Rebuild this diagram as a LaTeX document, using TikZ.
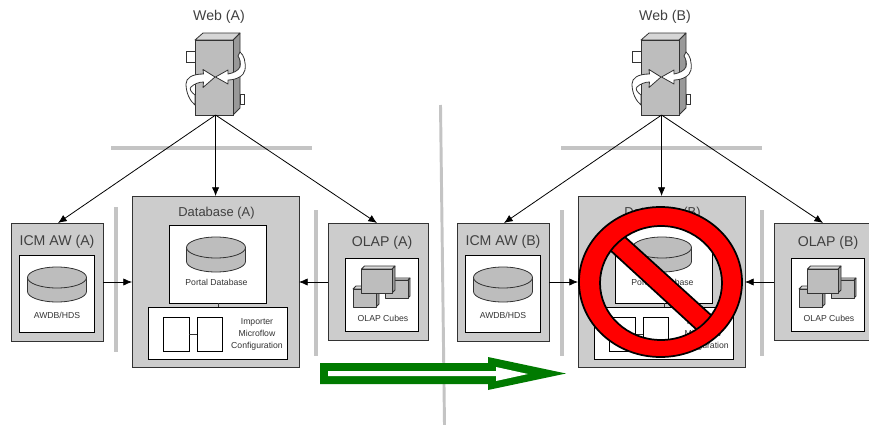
\documentclass[tikz,border=0pt]{standalone}
\usepackage{fontspec}
\setmainfont{Liberation Sans}
\usetikzlibrary{arrows.meta}
\definecolor{boxgray}{HTML}{CCCCCC}
\definecolor{linegray}{HTML}{333333}
\definecolor{bargray}{HTML}{C4C4C4}
\definecolor{midgray}{HTML}{BDBDBD}
\definecolor{sidegray}{HTML}{999999}
\definecolor{arrowgreen}{HTML}{007A00}
\tikzset{
  panel/.style={draw=linegray,fill=boxgray,line width=0.75pt,inner sep=0pt,outer sep=0pt},
  inner panel/.style={draw=black,fill=white,line width=0.75pt,inner sep=0pt,outer sep=0pt},
  bar/.style={draw=bargray,line width=3pt},
  conn/.style={draw=black,line width=0.6pt,-{Latex[length=6.5pt,width=5.5pt]}},
  plainline/.style={draw=linegray,line width=0.6pt},
  title/.style={font=\fontsize{10.6pt}{12pt}\selectfont,text=black!75,inner sep=0pt},
  dbtitle/.style={font=\fontsize{9.7pt}{12pt}\selectfont,text=black!75,inner sep=0pt},
  small/.style={font=\fontsize{6.5pt}{9pt}\selectfont,text=black!80,inner sep=0pt,align=center},
  shape part/.style={draw=linegray,fill=midgray,line width=0.6pt,line join=round},
}
\newcommand\rectnode[6]{%
  \pgfmathsetmacro\rw{(#5-#3)*0.75}\pgfmathsetmacro\rh{(#6-#4)*0.75}%
  \node[#1,minimum width=\rw pt,minimum height=\rh pt] (#2) at ({(#3+#5)/2},{(#4+#6)/2}) {};}
\newcommand\cylinder[4]{% cx, cy top, rx, height
  \fill[midgray] (#1-#3,#2) -- (#1-#3,#2+#4) arc[start angle=180,end angle=360,x radius=#3*0.75pt,y radius=10.5*0.75pt] -- (#1+#3,#2) -- cycle;
  \draw[linegray,line width=0.6pt] (#1-#3,#2) -- (#1-#3,#2+#4) arc[start angle=180,end angle=360,x radius=#3*0.75pt,y radius=10.5*0.75pt] -- (#1+#3,#2);
  \draw[shape part] (#1,#2) ellipse[x radius=#3*0.75pt,y radius=10.5*0.75pt];}
\newcommand\cube[5]{% x1,y1,x2,y2,depth
  \draw[shape part,fill=sidegray] (#3,#2) -- (#3+#5,#2-#5) -- (#3+#5,#4-#5) -- (#3,#4) -- cycle;
  \draw[shape part,fill=boxgray!70!white] (#1,#2) -- (#1+#5,#2-#5) -- (#3+#5,#2-#5) -- (#3,#2) -- cycle;
  \draw[shape part] (#1,#2) rectangle (#3,#4);}
\newcommand\site[5]{% letter, x offset, hub shift, left bar y1,y2
  \begin{scope}[shift={(#2*0.75pt,0)}]
  \node[title] (webt#1) at (219,16.5) {Web (#1)};
  % server
  \draw[plainline,fill=white] (186,51) rectangle (195,62);
  \draw[shape part,fill=sidegray] (233,40) -- (240,33) -- (240,108) -- (233,115) -- cycle;
  \draw[plainline,fill=white] (240,94) rectangle (244,104);
  \draw[shape part,fill=boxgray!80!white] (195,40) -- (203,33) -- (240,33) -- (233,40) -- cycle;
  \rectnode{panel,fill=midgray}{web#1}{195}{40}{233}{115}
  \draw[plainline,fill=white,line join=round] (215,77) -- (203,69.5) -- (203.5,74) .. controls (192,74) and (186,78) .. (186,84) .. controls (186,93) and (190,101) .. (195,105) -- (195,95) .. controls (191,92) and (189,89) .. (191,87) .. controls (194,84) and (199,82) .. (203.5,82) -- (203,87.5) -- cycle;
  \draw[plainline,fill=white,line join=round] (215.5,77) -- (228,70) -- (228,74) .. controls (233,73) and (238,71) .. (240,67) .. controls (241,63) and (240,59) .. (238,56) -- (240,52) .. controls (244,55) and (246,62) .. (245,70) .. controls (244,76) and (236,80) .. (228,80) -- (228,84) -- cycle;
  % hub
  \draw[bar] (111+#3,148) -- (312+#3,148);
  % left panel
  \rectnode{panel}{icm#1}{11}{223}{103}{341}
  \node[title] at (57,241.5) {ICM AW (#1)};
  \rectnode{inner panel}{icmi#1}{19}{255}{94}{332}
  \cylinder{57}{277.5}{29.5}{14}
  \node[small] at (57,315.5) {AWDB/HDS};
  % database
  \rectnode{panel}{db#1}{132}{196}{299}{367}
  \node[dbtitle] at (216.5,213) {Database (#1)};
  \rectnode{inner panel}{dbi#1}{169}{225}{266}{303}
  \cylinder{216}{247.5}{29.5}{14}
  \node[small] at (216.5,282.5) {Portal Database};
  \rectnode{inner panel}{imp#1}{148}{307}{287}{359}
  \rectnode{inner panel}{ra#1}{163}{317}{189}{351}
  \rectnode{inner panel}{rb#1}{197}{317}{222}{351}
  \draw[plainline] (ra#1) -- (rb#1);
  \draw[plainline] (dbi#1.south -| 218,0) -- (imp#1.north -| 218,0);
  \node[small] at (257,334) {Importer\\Microflow\\Configuration};
  % olap
  \rectnode{panel}{olap#1}{328}{223}{428}{340}
  \node[title] at (382,243) {OLAP (#1)};
  \rectnode{inner panel}{olapi#1}{345}{258}{418}{331}
  \cube{353}{289}{376}{307}{3}
  \cube{385}{280}{408}{298}{2}
  \cube{361.5}{269}{392}{293}{3}
  \node[small] at (383,318.5) {OLAP Cubes};
  % bars
  \draw[bar] (116,#4) -- (116,#5);
  \draw[bar] (315.5,210) -- (315.5,356);
  % connectors
  \coordinate (lvl#1) at (215,282);
  \coordinate (src#1) at ([xshift=1.2pt]web#1.south);
  \draw[conn] (src#1) -- ([xshift=0.75pt]icm#1.north);
  \draw[conn] (src#1) -- (src#1 |- db#1.north);
  \draw[conn] (src#1) -- ([xshift=-0.75pt]olap#1.north);
  \draw[conn] (icm#1.east |- lvl#1) -- (db#1.west |- lvl#1);
  \draw[conn] (olap#1.west |- lvl#1) -- (db#1.east |- lvl#1);
  \end{scope}}
\begin{document}
\begin{tikzpicture}[x=0.75pt,y=-0.75pt]
\useasboundingbox (0,0) rectangle (869,425);
\fill[white] (0,0) rectangle (869,425);
\draw[draw=bargray,line width=2.2pt] (440.5,105) -- (444.5,425);
\site{A}{0}{0}{207}{352}
\site{B}{446}{4}{210}{356}
% green arrow
\fill[arrowgreen] (320,363) -- (488,363) -- (488,357) -- (566,373.5) -- (488,390) -- (488,384) -- (320,384) -- cycle;
\fill[white] (328,371) -- (496,371) -- (496,367) -- (528,374) -- (496,381) -- (496,376) -- (328,376) -- cycle;
% prohibition sign
\begin{scope}
\clip (661,283) ellipse[x radius=61*0.75pt,y radius=57*0.75pt];
\fill[red] (610,250) -- (625,237) -- (712,316) -- (696,329) -- cycle;
\draw[black,line width=1.3pt] (610,250) -- (696,329) (625,237) -- (712,316);
\end{scope}
\draw[black,line width=1.3pt,fill=red,even odd rule] (660.5,282) ellipse[x radius=81.5*0.75pt,y radius=75*0.75pt] (661,283) ellipse[x radius=61*0.75pt,y radius=57*0.75pt];
\end{tikzpicture}
\end{document}
